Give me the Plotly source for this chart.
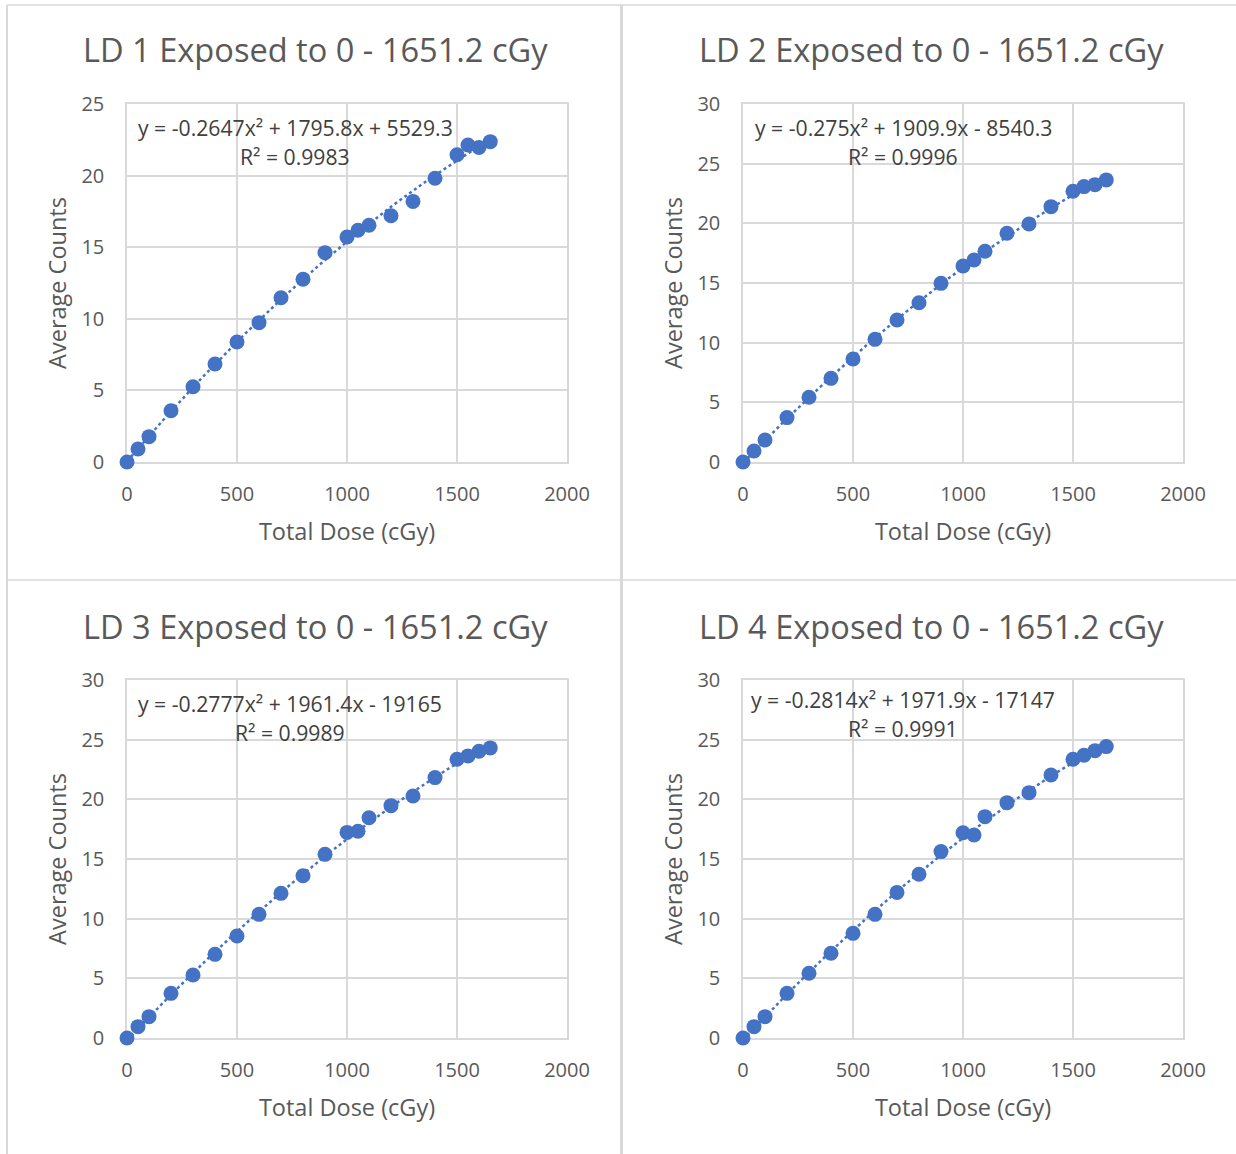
import numpy as np
import plotly.graph_objects as go

dose = [0, 50, 100, 200, 300, 400, 500, 600, 700, 800, 900, 1000, 1050, 1100,
        1200, 1300, 1400, 1500, 1550, 1600, 1651.2]

ld1 = [0, 0.91, 1.77, 3.58, 5.26, 6.84, 8.38, 9.73, 11.47, 12.76, 14.62, 15.71,
       16.18, 16.53, 17.2, 18.2, 19.81, 21.46, 22.14, 21.97, 22.37]
ld2 = [0, 0.92, 1.84, 3.72, 5.42, 7.01, 8.63, 10.28, 11.9, 13.35, 14.97, 16.43,
       16.93, 17.66, 19.17, 19.95, 21.4, 22.69, 23.08, 23.24, 23.64]
ld3 = [0, 0.95, 1.79, 3.74, 5.28, 7.01, 8.55, 10.36, 12.12, 13.6, 15.39, 17.23,
       17.32, 18.46, 19.47, 20.28, 21.82, 23.36, 23.64, 24.03, 24.31]
ld4 = [0, 0.95, 1.79, 3.74, 5.42, 7.1, 8.77, 10.36, 12.2, 13.72, 15.62, 17.2,
       17.01, 18.55, 19.72, 20.56, 22.04, 23.36, 23.69, 24.08, 24.42]

titles = ["LD 1 Exposed to 0 - 1651.2 cGy", "LD 2 Exposed to 0 - 1651.2 cGy",
          "LD 3 Exposed to 0 - 1651.2 cGy", "LD 4 Exposed to 0 - 1651.2 cGy"]
equations = ["y = -0.2647x² + 1795.8x + 5529.3", "y = -0.275x² + 1909.9x - 8540.3",
             "y = -0.2777x² + 1961.4x - 19165", "y = -0.2814x² + 1971.9x - 17147"]
r2_labels = ["R² = 0.9983", "R² = 0.9996", "R² = 0.9989", "R² = 0.9991"]
y_max = [25, 30, 30, 30]
x_ticks = [0, 500, 1000, 1500, 2000]

series = [ld1, ld2, ld3, ld4]

W, H = 1236, 1154
BLUE = "#4472C4"
GRID = "#d9d9d9"
TXT = "#595959"
FONT = "Open Sans"

# plot-area pixel boxes (left, right, top, bottom)
boxes = [(127, 567, 104, 462), (743, 1183, 104, 462),
         (127, 567, 680, 1038), (743, 1183, 680, 1038)]
# equation label centre offsets (dx from left, dy from top)
eq_pos = [(168, 24), (160, 24), (163, 23), (160, 19)]

fig = go.Figure()
annotations = []
for i, (ys, box) in enumerate(zip(series, boxes)):
    l, r, t, b = box
    xa = "x" if i == 0 else f"x{i+1}"
    ya = "y" if i == 0 else f"y{i+1}"
    # trendline: polynomial (order 2) fit of the data
    coef = np.polyfit(dose, ys, 2)
    xs = np.linspace(0, dose[-1], 200)
    fig.add_trace(go.Scatter(x=xs, y=np.polyval(coef, xs), mode="lines",
                             line=dict(color=BLUE, width=2.5, dash="dot"),
                             xaxis=xa, yaxis=ya, showlegend=False, hoverinfo="skip"))
    fig.add_trace(go.Scatter(x=dose, y=ys, mode="markers",
                             marker=dict(color=BLUE, size=15),
                             xaxis=xa, yaxis=ya, showlegend=False, cliponaxis=False))
    xkey = "xaxis" if i == 0 else f"xaxis{i+1}"
    ykey = "yaxis" if i == 0 else f"yaxis{i+1}"
    fig.update_layout({
        xkey: dict(domain=[l / W, r / W], anchor=ya, range=[0, 2000], automargin=False,
                   tickvals=x_ticks, showgrid=True, gridcolor=GRID, gridwidth=1.5,
                   showline=True, linecolor=GRID, linewidth=1.5, mirror=True,
                   zeroline=False, ticks="", ticklabelstandoff=13, layer="below traces",
                   tickfont=dict(family=FONT, size=20, color=TXT),
                   title=dict(text="Total Dose (cGy)", standoff=18,
                              font=dict(family=FONT, size=23.5, color=TXT))),
        ykey: dict(domain=[1 - b / H, 1 - t / H], anchor=xa, range=[0, y_max[i]],
                   automargin=False,
                   dtick=5, showgrid=True, gridcolor=GRID, gridwidth=1.5,
                   showline=True, linecolor=GRID, linewidth=1.5, mirror=True,
                   zeroline=False, ticks="", ticklabelstandoff=17, layer="below traces",
                   tickfont=dict(family=FONT, size=20, color=TXT),
                   title=dict(text="Average Counts", standoff=8,
                              font=dict(family=FONT, size=23.5, color=TXT))),
    })
    cx = (l + r) / 2
    annotations.append(dict(text=titles[i], x=(cx - 32) / W, y=1 - (t - 54) / H,
                            xref="paper", yref="paper", showarrow=False,
                            xanchor="center", yanchor="middle",
                            font=dict(family=FONT, size=32.6, color=TXT)))
    dx, dy = eq_pos[i]
    annotations.append(dict(text=equations[i], x=(l + dx) / W, y=1 - (t + dy) / H,
                            xref="paper", yref="paper", showarrow=False,
                            xanchor="center", yanchor="middle",
                            font=dict(family=FONT, size=21.2, color="#404040")))
    annotations.append(dict(text=r2_labels[i], x=(l + dx) / W, y=1 - (t + dy + 29) / H,
                            xref="paper", yref="paper", showarrow=False,
                            xanchor="center", yanchor="middle",
                            font=dict(family=FONT, size=21.2, color="#404040")))

# panel borders
shapes = [
    dict(type="line", xref="paper", yref="paper", x0=7 / W, x1=1, y0=1 - 5 / H, y1=1 - 5 / H,
         line=dict(color=GRID, width=1.5)),
    dict(type="line", xref="paper", yref="paper", x0=7 / W, x1=7 / W, y0=0, y1=1 - 5 / H,
         line=dict(color=GRID, width=2)),
    dict(type="line", xref="paper", yref="paper", x0=7 / W, x1=1, y0=1 - 580 / H, y1=1 - 580 / H,
         line=dict(color=GRID, width=1.5)),
    dict(type="line", xref="paper", yref="paper", x0=621.5 / W, x1=621.5 / W, y0=0, y1=1 - 5 / H,
         line=dict(color=GRID, width=3)),
]

fig.update_layout(width=W, height=H, margin=dict(l=0, r=0, t=0, b=0, autoexpand=False),
                  paper_bgcolor="white", plot_bgcolor="white",
                  annotations=annotations, shapes=shapes,
                  font=dict(family=FONT, color=TXT))

fig.write_html("out.html",
               post_script="document.body.style.margin='0';document.body.style.overflow='hidden';")
